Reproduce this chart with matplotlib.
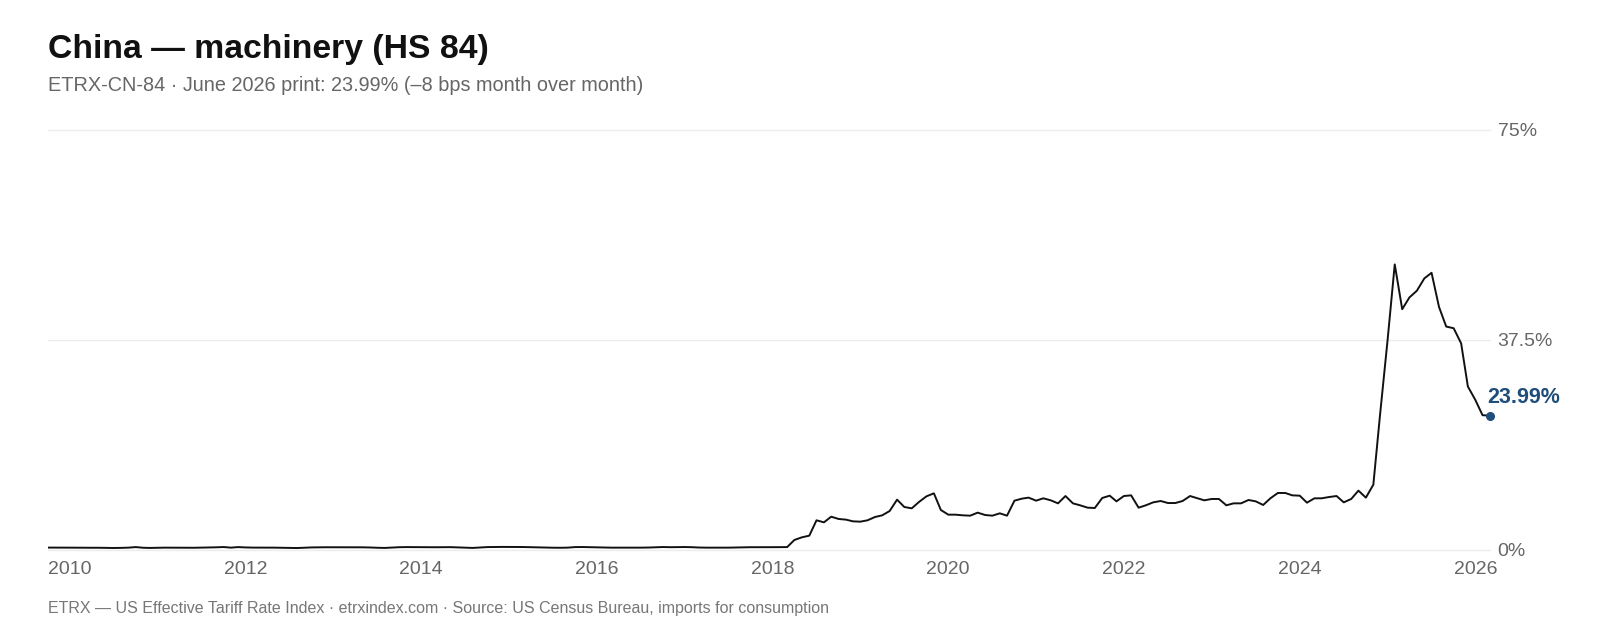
import matplotlib
matplotlib.use("Agg")
import matplotlib.pyplot as plt
import pandas as pd

# monthly effective tariff rate in %, one list per year (Jan..Dec)
rate2010 = [0.43, 0.43, 0.42, 0.42, 0.41, 0.41, 0.40, 0.40, 0.37, 0.36, 0.38, 0.42]
rate2011 = [0.52, 0.40, 0.37, 0.40, 0.42, 0.42, 0.41, 0.40, 0.40, 0.42, 0.44, 0.48]
rate2012 = [0.53, 0.42, 0.52, 0.46, 0.43, 0.43, 0.42, 0.42, 0.40, 0.38, 0.35, 0.40]
rate2013 = [0.46, 0.48, 0.49, 0.49, 0.49, 0.50, 0.49, 0.48, 0.45, 0.40, 0.37, 0.44]
rate2014 = [0.50, 0.52, 0.51, 0.50, 0.50, 0.49, 0.50, 0.51, 0.47, 0.42, 0.37, 0.45]
rate2015 = [0.52, 0.54, 0.55, 0.55, 0.54, 0.53, 0.50, 0.47, 0.43, 0.41, 0.40, 0.42]
rate2016 = [0.52, 0.53, 0.50, 0.47, 0.44, 0.42, 0.42, 0.41, 0.41, 0.42, 0.44, 0.48]
rate2017 = [0.53, 0.50, 0.51, 0.53, 0.50, 0.44, 0.42, 0.42, 0.41, 0.42, 0.45, 0.48]
rate2018 = [0.50, 0.51, 0.50, 0.50, 0.51, 0.52, 1.79, 2.26, 2.56, 5.30, 4.94, 5.95]
rate2019 = [5.54, 5.42, 5.12, 5.06, 5.30, 5.89, 6.19, 6.96, 8.99, 7.68, 7.44, 8.57]
rate2020 = [9.58, 10.12, 7.14, 6.31, 6.31, 6.19, 6.13, 6.67, 6.25, 6.13, 6.55, 6.13]
rate2021 = [8.81, 9.17, 9.35, 8.81, 9.23, 8.87, 8.33, 9.64, 8.33, 7.98, 7.56, 7.50]
rate2022 = [9.29, 9.70, 8.69, 9.64, 9.76, 7.56, 7.98, 8.51, 8.75, 8.39, 8.39, 8.75]
rate2023 = [9.64, 9.23, 8.87, 9.11, 9.11, 7.98, 8.33, 8.33, 8.93, 8.69, 8.04, 9.23]
rate2024 = [10.18, 10.18, 9.76, 9.70, 8.45, 9.23, 9.23, 9.46, 9.64, 8.51, 9.11, 10.60]
rate2025 = [9.35, 11.67, 24.20, 37.40, 51.00, 43.00, 45.10, 46.30, 48.50, 49.50, 43.40, 39.90]
rate2026 = [39.60, 36.90, 29.20, 26.80, 24.07, 23.99]

rate = (rate2010 + rate2011 + rate2012 + rate2013 + rate2014 + rate2015 + rate2016
        + rate2017 + rate2018 + rate2019 + rate2020 + rate2021 + rate2022 + rate2023
        + rate2024 + rate2025 + rate2026)
months = pd.date_range("2010-01-01", periods=len(rate), freq="MS")

xTickYears = [2010, 2012, 2014, 2016, 2018, 2020, 2022, 2024, 2026]
yTicks = [0, 37.5, 75]
yTickLabels = ["0%", "37.5%", "75%"]

title = "China \u2014 machinery (HS 84)"
subtitle = "ETRX-CN-84 \u00b7 June 2026 print: 23.99% (\u20138 bps month over month)"
footer = ("ETRX \u2014 US Effective Tariff Rate Index \u00b7 etrxindex.com \u00b7 "
          "Source: US Census Bureau, imports for consumption")
lastLabel = "23.99%"

blue = "#1f4e7a"

plt.rcParams['font.family'] = ['Liberation Sans', 'DejaVu Sans']

fig = plt.figure(figsize=(16, 6.4), dpi=100)
ax = fig.add_axes([48/1600, 1 - 550/640, (1490 - 48)/1600, 420/640])

ax.plot(months, rate, color='#111111', lw=1.4)
ax.plot(months[-1], rate[-1], 'o', color=blue, ms=5.5, clip_on=False, zorder=5)
ax.annotate(lastLabel, (months[-1], rate[-1]), xytext=(-2, 9),
            textcoords='offset points', ha='left', va='baseline',
            fontsize=15.5, fontweight='bold', color=blue, annotation_clip=False)

ax.set_xlim(months[0], months[-1])
ax.set_ylim(0, 75)

ax.set_yticks(yTicks)
ax.set_yticklabels(yTickLabels)
ax.yaxis.tick_right()
ax.tick_params(axis='y', length=0, pad=5.5, labelsize=14, labelcolor='#666666')

ax.set_xticks([pd.Timestamp(str(y) + "-01-01") for y in xTickYears])
ax.set_xticklabels([str(y) for y in xTickYears], ha='left')
ax.tick_params(axis='x', length=0, pad=8, labelsize=14, labelcolor='#666666')

ax.grid(axis='y', color='#ececec', lw=1)
ax.grid(axis='x', visible=False)
ax.set_axisbelow(True)
for gl in ax.get_ygridlines():
    gl.set_clip_on(False)
for s in ax.spines.values():
    s.set_visible(False)

fig.text(48/1600, 1 - 58/640, title, fontsize=24.3, fontweight='bold', color='#111111')
fig.text(48/1600, 1 - 91/640, subtitle, fontsize=14.3, color='#666666')
fig.text(48/1600, 1 - 613/640, footer, fontsize=11.5, color='#777777')

fig.savefig('out.png', dpi=100)
